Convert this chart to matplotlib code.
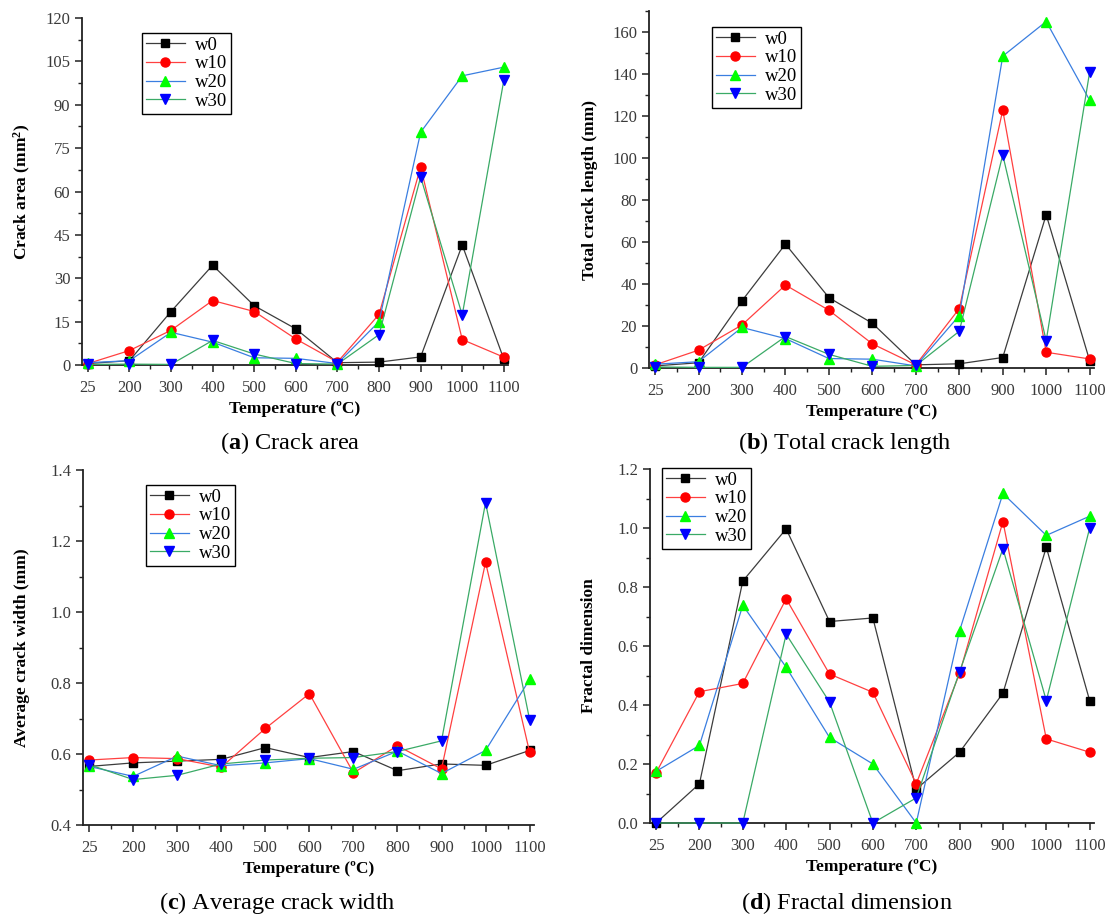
import matplotlib
matplotlib.use("Agg")
import matplotlib.pyplot as plt
from matplotlib.ticker import MultipleLocator, FixedLocator
import numpy as np

plt.rcParams['font.family'] = ['Liberation Serif', 'DejaVu Serif']
plt.rcParams['mathtext.fontset'] = 'custom'
plt.rcParams['mathtext.rm'] = 'Liberation Serif'
plt.rcParams['mathtext.bf'] = 'Liberation Serif:bold'
plt.rcParams['mathtext.it'] = 'Liberation Serif:italic'

temps = ["25", "200", "300", "400", "500", "600", "700", "800", "900", "1000", "1100"]
series = ["w0", "w10", "w20", "w30"]

area_w0 = [0.5, 1.5, 18.5, 34.5, 20.5, 12.5, 0.8, 1.0, 2.8, 41.5, 2.0]
area_w10 = [0.5, 5.0, 12.0, 22.3, 18.5, 9.0, 1.0, 17.5, 68.5, 8.8, 2.7]
area_w20 = [0.8, 1.5, 11.3, 7.9, 2.5, 2.3, 0.5, 15.0, 80.5, 100.0, 103.0]
area_w30 = [0.2, 0.3, 0.2, 8.5, 3.8, 0.5, 0.3, 10.5, 65.0, 17.3, 98.5]

length_w0 = [1.0, 2.5, 32.0, 59.0, 33.5, 21.3, 1.5, 2.0, 5.0, 73.0, 3.5]
length_w10 = [1.5, 8.5, 20.5, 39.5, 27.5, 11.5, 1.5, 28.3, 122.8, 7.5, 4.3]
length_w20 = [1.8, 3.0, 19.3, 14.0, 4.5, 4.2, 1.0, 25.0, 148.5, 165.0, 127.5]
length_w30 = [0.5, 0.3, 0.3, 15.0, 6.5, 0.8, 1.2, 17.5, 101.5, 13.0, 141.0]

width_w0 = [0.565, 0.575, 0.580, 0.585, 0.618, 0.590, 0.607, 0.553, 0.572, 0.568, 0.610]
width_w10 = [0.583, 0.590, 0.587, 0.563, 0.672, 0.770, 0.547, 0.623, 0.558, 1.140, 0.605]
width_w20 = [0.565, 0.537, 0.594, 0.567, 0.575, 0.587, 0.557, 0.608, 0.545, 0.610, 0.810]
width_w30 = [0.570, 0.528, 0.540, 0.572, 0.583, 0.588, 0.590, 0.607, 0.637, 1.308, 0.697]

fractal_w0 = [0.0, 0.133, 0.820, 0.997, 0.683, 0.695, 0.115, 0.240, 0.440, 0.935, 0.415]
fractal_w10 = [0.170, 0.445, 0.473, 0.760, 0.505, 0.443, 0.133, 0.507, 1.022, 0.285, 0.240]
fractal_w20 = [0.175, 0.263, 0.738, 0.528, 0.290, 0.200, 0.0, 0.652, 1.117, 0.975, 1.040]
fractal_w30 = [0.0, 0.0, 0.0, 0.640, 0.410, 0.0, 0.085, 0.513, 0.930, 0.415, 1.000]

W, H = 1107, 918
fig = plt.figure(figsize=(W / 100, H / 100), dpi=100)

line_colors = ['#3c3c3c', '#ff4040', '#3a7ee0', '#3aaa66']
marker_colors = ['#000000', '#ff0000', '#00ff00', '#0000ff']
markers = ['s', 'o', '^', 'v']
msizes = [5.5, 6.5, 7, 7]


def px_axes(l, t, r, b):
    return fig.add_axes([l / W, 1 - b / H, (r - l) / W, (b - t) / H])


def make_panel(box, data, ylim, ymajor, yminor, yfmt, ylabel, leg_xy, caption, cap_xy):
    ax = px_axes(*box)
    x = np.arange(len(temps))
    for i, (name, vals) in enumerate(zip(series, data)):
        ax.plot(x, vals, color=line_colors[i], lw=0.9, marker=markers[i],
                ms=msizes[i], mfc=marker_colors[i], mec=marker_colors[i],
                label=name, clip_on=False, zorder=3 + i)
    ax.set_xlim(-0.14, 10.1)
    ax.set_ylim(*ylim)
    ax.set_xticks(x)
    ax.set_xticklabels(temps)
    ax.xaxis.set_minor_locator(FixedLocator(np.arange(0.5, 10, 1.0)))
    ax.yaxis.set_major_locator(MultipleLocator(ymajor))
    ax.yaxis.set_minor_locator(MultipleLocator(yminor))
    ax.yaxis.set_major_formatter(yfmt)
    for s in ['top', 'right']:
        ax.spines[s].set_visible(False)
    for s in ['left', 'bottom']:
        ax.spines[s].set_linewidth(1.3)
        ax.spines[s].set_color('#222222')
    ax.tick_params(which='major', direction='out', length=5, width=1.1,
                   labelsize=12, labelcolor='#3a3a3a', color='#222222')
    ax.tick_params(which='minor', direction='out', length=3, width=1.0, color='#222222')
    ax.tick_params(axis='x', pad=6)
    leg = ax.legend(loc='upper left', bbox_to_anchor=(leg_xy[0] / W, 1 - leg_xy[1] / H),
                    bbox_transform=fig.transFigure, borderaxespad=0,
                    frameon=True, fancybox=False, framealpha=1, edgecolor='#000000',
                    prop={'family': 'Liberation Serif', 'size': 13.5},
                    handlelength=2.1, handletextpad=0.55, labelspacing=0.08,
                    borderpad=0.2)
    leg.get_frame().set_linewidth(1.0)
    l, t, r, b = box
    fig.text((l + r) / 2 / W, 1 - (b + 44) / H, "Temperature (ºC)", ha='center',
             va='center', fontsize=12.5, fontweight='bold')
    fig.text(ylabel[1] / W, 1 - ((t + b) / 2) / H, ylabel[0], ha='center', va='center',
             rotation=90, fontsize=12.5, fontweight='bold')
    fig.text(cap_xy[0] / W, 1 - cap_xy[1] / H, caption, ha='center', va='center',
             fontsize=17.5)
    return ax


make_panel((82, 18, 508, 365), [area_w0, area_w10, area_w20, area_w30],
           (0, 120), 15, 7.5, '{x:.0f}', (r"Crack area (mm$\mathbf{^2}$)", 22),
           (142, 33), r"($\mathbf{a}$) Crack area", (290, 443))
make_panel((649, 11, 1094, 368), [length_w0, length_w10, length_w20, length_w30],
           (0, 170), 20, 10, '{x:.0f}', ("Total crack length (mm)", 590),
           (712, 27), r"($\mathbf{b}$) Total crack length", (845, 443))
make_panel((83, 470, 534, 825), [width_w0, width_w10, width_w20, width_w30],
           (0.4, 1.4), 0.2, 0.1, '{x:.1f}', ("Average crack width (mm)", 22),
           (146, 485), r"($\mathbf{c}$) Average crack width", (277, 903))
make_panel((650, 469, 1094, 823), [fractal_w0, fractal_w10, fractal_w20, fractal_w30],
           (0, 1.2), 0.2, 0.1, '{x:.1f}', ("Fractal dimension", 589),
           (662, 468), r"($\mathbf{d}$) Fractal dimension", (847, 903))

fig.savefig("out.png", dpi=100)
